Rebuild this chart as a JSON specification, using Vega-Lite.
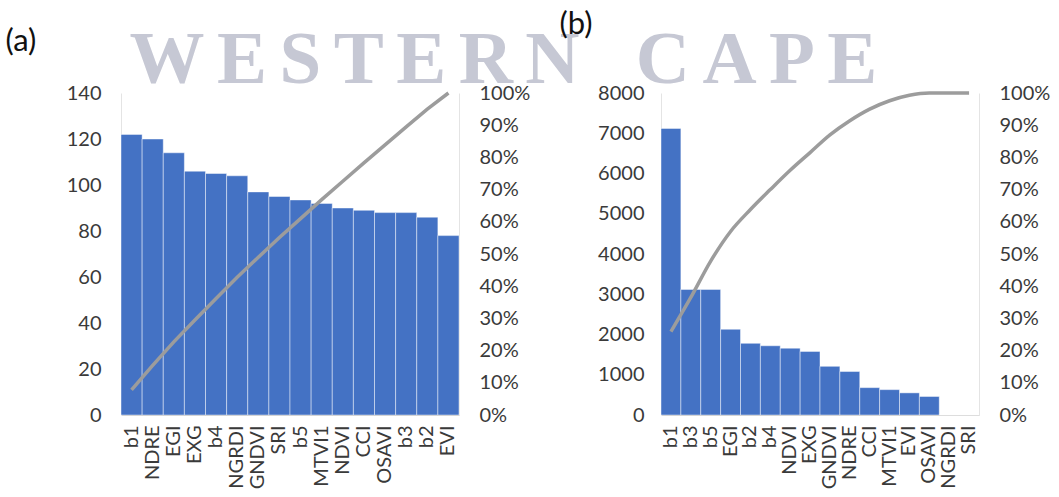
{
  "$schema": "https://vega.github.io/schema/vega-lite/v6.json",
  "background": "white",
  "padding": {"left": 5, "top": 8, "right": 5, "bottom": 5},
  "bounds": "flush",
  "spacing": 202,
  "config": {
    "font": "Lato",
    "view": {"stroke": null},
    "axis": {
      "labelFont": "Lato",
      "labelFontSize": 20,
      "labelColor": "#3a3a3a",
      "ticks": false,
      "grid": false
    }
  },
  "datasets": {
    "importanceA": [
      {"name": "b1", "value": 122, "cum": 0.078},
      {"name": "NDRE", "value": 120, "cum": 0.154},
      {"name": "EGI", "value": 114, "cum": 0.227},
      {"name": "EXG", "value": 106, "cum": 0.295},
      {"name": "b4", "value": 105, "cum": 0.362},
      {"name": "NGRDI", "value": 104, "cum": 0.428},
      {"name": "GNDVI", "value": 97, "cum": 0.49},
      {"name": "SRI", "value": 95, "cum": 0.551},
      {"name": "b5", "value": 93.5, "cum": 0.61},
      {"name": "MTVI1", "value": 92, "cum": 0.669},
      {"name": "NDVI", "value": 90, "cum": 0.726},
      {"name": "CCI", "value": 89, "cum": 0.783},
      {"name": "OSAVI", "value": 88, "cum": 0.839},
      {"name": "b3", "value": 88, "cum": 0.895},
      {"name": "b2", "value": 86, "cum": 0.95},
      {"name": "EVI", "value": 78, "cum": 1.0}
    ],
    "importanceB": [
      {"name": "b1", "value": 7120, "cum": 0.259},
      {"name": "b3", "value": 3120, "cum": 0.365},
      {"name": "b5", "value": 3120, "cum": 0.478},
      {"name": "EGI", "value": 2130, "cum": 0.57},
      {"name": "b2", "value": 1780, "cum": 0.638},
      {"name": "b4", "value": 1720, "cum": 0.7},
      {"name": "NDVI", "value": 1660, "cum": 0.76},
      {"name": "EXG", "value": 1580, "cum": 0.815},
      {"name": "GNDVI", "value": 1210, "cum": 0.87},
      {"name": "NDRE", "value": 1080, "cum": 0.914},
      {"name": "CCI", "value": 680, "cum": 0.95},
      {"name": "MTVI1", "value": 630, "cum": 0.976},
      {"name": "EVI", "value": 550, "cum": 0.993},
      {"name": "OSAVI", "value": 460, "cum": 1.0},
      {"name": "NGRDI", "value": 0, "cum": 1.0},
      {"name": "SRI", "value": 0, "cum": 1.0}
    ]
  },
  "hconcat": [
    {
      "width": 338,
      "height": 322,
      "data": {"name": "importanceA"},
      "encoding": {
        "x": {
          "field": "name",
          "type": "nominal",
          "sort": null,
          "scale": {"paddingInner": 0, "paddingOuter": 0},
          "axis": {"title": null, "labelAngle": -90, "labelPadding": 10, "domainColor": "#c8c8c8"}
        }
      },
      "layer": [
        {
          "mark": {"type": "bar", "color": "#4472c4", "stroke": "#ffffff", "strokeOpacity": 0.45, "strokeWidth": 1},
          "encoding": {
            "y": {
              "field": "value",
              "type": "quantitative",
              "scale": {"domain": [0, 140]},
              "axis": {
                "values": [0, 20, 40, 60, 80, 100, 120, 140],
                "labelPadding": 20,
                "domainColor": "#e4e4e4",
                "title": "(a)",
                "titleAngle": 0,
                "titleX": -116,
                "titleY": -43,
                "titleAlign": "left",
                "titleBaseline": "alphabetic",
                "titleFont": "Lato",
                "titleFontSize": 31,
                "titleFontWeight": "normal",
                "titleColor": "#111111"
              }
            }
          }
        },
        {
          "mark": {"type": "line", "color": "#9c9c9c", "strokeWidth": 3.5},
          "encoding": {
            "y": {
              "field": "cum",
              "type": "quantitative",
              "scale": {"domain": [0, 1]},
              "axis": {
                "orient": "right",
                "format": ".0%",
                "values": [0, 0.1, 0.2, 0.3, 0.4, 0.5, 0.6, 0.7, 0.8, 0.9, 1],
                "labelPadding": 20,
                "domainColor": "#e4e4e4",
                "title": "W\u2006E\u2006S\u2006T\u2006E\u2006R\u2006N\u2006 \u2006\u2006C\u2006A\u2006P\u2006E",
                "titleAngle": 0,
                "titleX": -330,
                "titleY": -11,
                "titleAlign": "left",
                "titleBaseline": "alphabetic",
                "titleFont": "Liberation Serif",
                "titleFontSize": 75,
                "titleFontWeight": "bold",
                "titleColor": "#c6c8d4"
              }
            }
          }
        }
      ],
      "resolve": {"scale": {"y": "independent"}}
    },
    {
      "width": 318,
      "height": 322,
      "data": {"name": "importanceB"},
      "encoding": {
        "x": {
          "field": "name",
          "type": "nominal",
          "sort": null,
          "scale": {"paddingInner": 0, "paddingOuter": 0},
          "axis": {"title": null, "labelAngle": -90, "labelPadding": 10, "domainColor": "#c8c8c8"}
        }
      },
      "layer": [
        {
          "mark": {"type": "bar", "color": "#4472c4", "stroke": "#ffffff", "strokeOpacity": 0.45, "strokeWidth": 1},
          "encoding": {
            "y": {
              "field": "value",
              "type": "quantitative",
              "scale": {"domain": [0, 8000]},
              "axis": {
                "values": [0, 1000, 2000, 3000, 4000, 5000, 6000, 7000, 8000],
                "format": "d",
                "labelPadding": 17,
                "domainColor": "#e4e4e4",
                "title": "(b)",
                "titleAngle": 0,
                "titleX": -102,
                "titleY": -60,
                "titleAlign": "left",
                "titleBaseline": "alphabetic",
                "titleFont": "Lato",
                "titleFontSize": 31,
                "titleFontWeight": "normal",
                "titleColor": "#111111"
              }
            }
          }
        },
        {
          "mark": {"type": "line", "color": "#9c9c9c", "strokeWidth": 3.5, "interpolate": "monotone"},
          "encoding": {
            "y": {
              "field": "cum",
              "type": "quantitative",
              "scale": {"domain": [0, 1]},
              "axis": {
                "title": null,
                "orient": "right",
                "format": ".0%",
                "values": [0, 0.1, 0.2, 0.3, 0.4, 0.5, 0.6, 0.7, 0.8, 0.9, 1],
                "labelPadding": 20,
                "domainColor": "#e4e4e4"
              }
            }
          }
        }
      ],
      "resolve": {"scale": {"y": "independent"}}
    }
  ]
}
